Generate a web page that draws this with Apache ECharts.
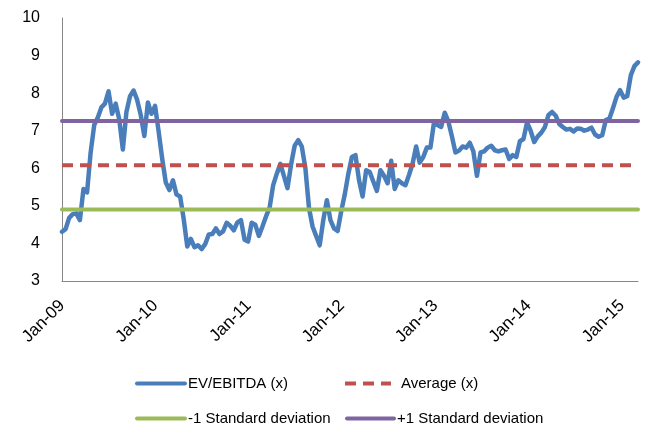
<!DOCTYPE html>
<html>
<head>
<meta charset="utf-8">
<script src="https://cdn.jsdelivr.net/npm/echarts@6/dist/echarts.min.js"></script>
<style>
  html, body { margin: 0; padding: 0; background: #ffffff; }
  #chart { width: 658px; height: 431px; }
</style>
</head>
<body>
<div id="chart"></div>
<script>
// EV/EBITDA multiple, sampled every two weeks from 1 Jan 2009
const startDate = '2009-01-01';
const stepDays = 14;
const evEbitda = [
  4.31, 4.38, 4.68, 4.78, 4.80, 4.62, 5.45, 5.36, 6.42, 7.15,
  7.35, 7.62, 7.72, 8.05, 7.45, 7.72, 7.30, 6.50, 7.50, 7.92,
  8.07, 7.82, 7.42, 6.86, 7.75, 7.45, 7.66, 6.98, 6.25, 5.62,
  5.42, 5.68, 5.30, 5.25, 4.65, 3.92, 4.12, 3.90, 3.95, 3.85,
  3.98, 4.24, 4.25, 4.40, 4.25, 4.32, 4.55, 4.47, 4.35, 4.56,
  4.62, 4.10, 4.05, 4.55, 4.50, 4.20, 4.45, 4.72, 4.95, 5.55,
  5.85, 6.12, 5.80, 5.47, 6.10, 6.60, 6.75, 6.58, 6.00, 4.95,
  4.45, 4.20, 3.95, 4.62, 5.15, 4.62, 4.40, 4.33, 4.85, 5.30,
  5.85, 6.30, 6.35, 5.68, 5.25, 5.95, 5.90, 5.65, 5.40, 5.95,
  5.80, 5.60, 6.20, 5.45, 5.68, 5.60, 5.55, 5.82, 6.12, 6.58,
  6.15, 6.30, 6.55, 6.55, 7.22, 7.15, 7.10, 7.48, 7.25, 6.85,
  6.42, 6.47, 6.58, 6.55, 6.68, 6.45, 5.80, 6.42, 6.45, 6.55,
  6.60, 6.48, 6.45, 6.48, 6.50, 6.25, 6.35, 6.30, 6.72, 6.78,
  7.22, 7.00, 6.70, 6.85, 6.95, 7.10, 7.42, 7.50, 7.40, 7.18,
  7.10, 7.03, 7.05, 6.98, 7.06, 7.05, 7.00, 7.03, 7.08, 6.90,
  6.84, 6.88, 7.28, 7.32, 7.60, 7.90, 8.08, 7.88, 7.92, 8.48,
  8.72, 8.82
];
const averageMultiple = 6.08;
const minusOneSd = 4.90;
const plusOneSd = 7.26;
const yearTickLabels = ['Jan-09', 'Jan-10', 'Jan-11', 'Jan-12', 'Jan-13', 'Jan-14', 'Jan-15'];
const firstYear = 2009;

const seriesNames = ['EV/EBITDA (x)', 'Average (x)', '-1 Standard deviation', '+1 Standard deviation'];
const colors = ['#4a7ebb', '#c0504d', '#9bbb59', '#8064a2'];

// convert a date to a fractional year so the x axis can tick on 1 January
function toFractionalYear(d) {
  const y = d.getUTCFullYear();
  const s = Date.UTC(y, 0, 1), e = Date.UTC(y + 1, 0, 1);
  return y + (d.getTime() - s) / (e - s);
}
const t0 = Date.parse(startDate + 'T00:00:00Z');
const xs = evEbitda.map((_, i) => toFractionalYear(new Date(t0 + i * stepDays * 864e5)));
const xMin = xs[0];
const xMax = xs[xs.length - 1];

const levelLine = v => [[xMin, v], [xMax, v]];

const font = '"Liberation Sans", Arial, sans-serif';

// one legend per entry so the four entries sit in a 2 x 2 grid
function legendEntry(name, left, top, width, textPad) {
  return {
    data: [name],
    left: left, top: top,
    padding: 0,
    itemWidth: width, itemHeight: 14,
    itemStyle: { opacity: 0 },
    lineStyle: { width: 4 },
    textStyle: { fontFamily: font, fontSize: 15, color: '#000000', padding: [0, 0, 0, textPad] }
  };
}

const chart = echarts.init(document.getElementById('chart'), null, { renderer: 'canvas' });
chart.setOption({
  animation: false,
  backgroundColor: '#ffffff',
  grid: { left: 62, right: 658 - 62 - 576, top: 18, bottom: 150, containLabel: false },
  xAxis: {
    type: 'value',
    min: firstYear,
    max: xMax,
    interval: 1,
    splitLine: { show: false },
    axisTick: { show: false },
    axisLine: { show: true, lineStyle: { color: '#868686', width: 1 } },
    axisLabel: {
      rotate: 45,
      margin: 22,
      fontFamily: font,
      fontSize: 17,
      color: '#000000',
      formatter: v => {
        const r = Math.round(v);
        return Math.abs(v - r) < 1e-6 ? (yearTickLabels[r - firstYear] || '') : '';
      }
    }
  },
  yAxis: {
    type: 'value',
    min: 3,
    max: 10,
    interval: 1,
    splitLine: { show: false },
    axisTick: { show: false },
    axisLine: { show: true, lineStyle: { color: '#868686', width: 1 } },
    axisLabel: { margin: 22, fontFamily: font, fontSize: 16, color: '#000000' }
  },
  legend: [
    legendEntry(seriesNames[0], 135, 376, 48, -2),
    legendEntry(seriesNames[1], 343, 376, 46, 5),
    legendEntry(seriesNames[2], 135, 411, 48, -2),
    legendEntry(seriesNames[3], 345, 411, 47, -2)
  ],
  series: [
    {
      name: seriesNames[0], type: 'line', symbol: 'none',
      data: evEbitda.map((v, i) => [xs[i], v]),
      lineStyle: { color: colors[0], width: 4.5, join: 'round', cap: 'round' },
      itemStyle: { color: colors[0] }, z: 2
    },
    {
      name: seriesNames[1], type: 'line', symbol: 'none',
      data: levelLine(averageMultiple),
      lineStyle: { color: colors[1], width: 4, type: [11, 7] },
      itemStyle: { color: colors[1] }, z: 3
    },
    {
      name: seriesNames[2], type: 'line', symbol: 'none',
      data: levelLine(minusOneSd),
      lineStyle: { color: colors[2], width: 4, cap: 'round' },
      itemStyle: { color: colors[2] }, z: 3
    },
    {
      name: seriesNames[3], type: 'line', symbol: 'none',
      data: levelLine(plusOneSd),
      lineStyle: { color: colors[3], width: 4, cap: 'round' },
      itemStyle: { color: colors[3] }, z: 3
    }
  ]
});
</script>
</body>
</html>
